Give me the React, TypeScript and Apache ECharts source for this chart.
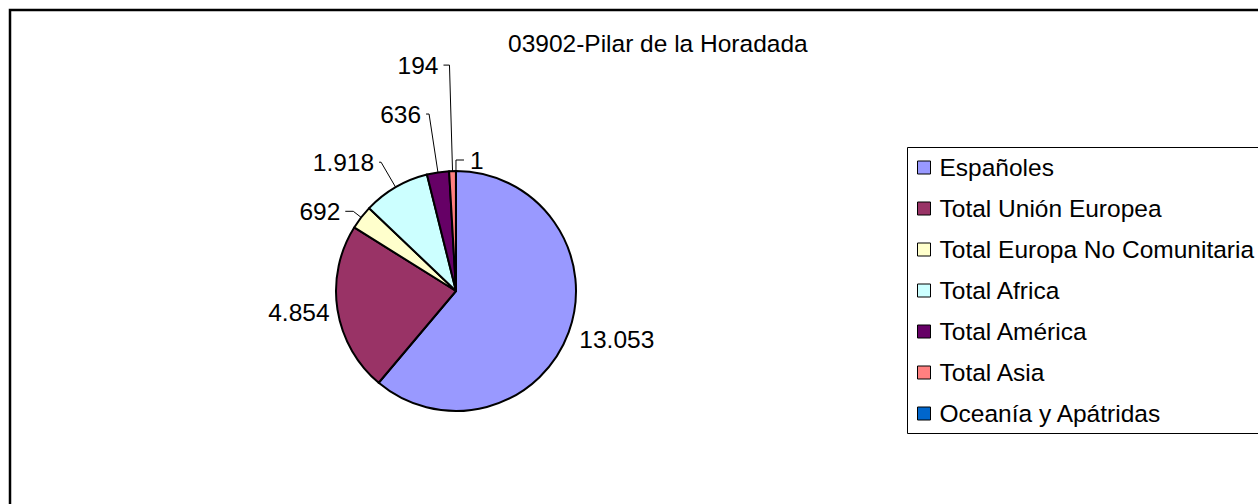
import React, { useEffect, useRef } from "react";
import * as echarts from "echarts";

const title = "03902-Pilar de la Horadada";
const categories = [
  "Españoles",
  "Total Unión Europea",
  "Total Europa No Comunitaria",
  "Total Africa",
  "Total América",
  "Total Asia",
  "Oceanía y Apátridas",
];
const values = [13053, 4854, 692, 1918, 636, 194, 1];
const colors = ["#9999FF", "#993366", "#FFFFCC", "#CCFFFF", "#660066", "#FF8080", "#0066CC"];
const labelLineLength = [6, 6, 10, 29, 59, 106, 11];
const labelLineLength2 = [0, 0, 8, 2, 3, 6, 8];
const labelLineShow = [false, false, true, true, true, true, true];

const FONT = "'Liberation Sans', Arial, sans-serif";
const FS = 24.5;

function fmt(v: number): string {
  return String(v).replace(/\B(?=(\d{3})+(?!\d))/g, ".");
}

export default function App() {
  const ref = useRef<HTMLDivElement>(null);
  useEffect(() => {
    if (!ref.current) return;
    const chart = echarts.init(ref.current, undefined, { renderer: "svg" });
    const data = categories.map((name, i) => ({
      name,
      value: values[i],
      itemStyle: { color: colors[i] },
      labelLine: {
        show: labelLineShow[i],
        length: labelLineLength[i],
        length2: labelLineLength2[i],
      },
    }));
    chart.setOption({
      animation: false,
      backgroundColor: "#ffffff",
      graphic: [
        {
          type: "rect",
          shape: { x: 10, y: 10, width: 1400, height: 1000 },
          style: { fill: "none", stroke: "#000", lineWidth: 2.5 },
          silent: true,
        },
        {
          type: "rect",
          shape: { x: 907.5, y: 147.5, width: 600, height: 286 },
          style: { fill: "none", stroke: "#000", lineWidth: 1 },
          silent: true,
        },
      ],
      title: {
        text: title,
        left: 508,
        top: 31,
        padding: 0,
        textStyle: { fontFamily: FONT, fontSize: FS, fontWeight: "normal", color: "#000", lineHeight: 24 },
      },
      legend: {
        orient: "vertical",
        left: 907,
        top: 147,
        padding: [8, 10, 8, 10],
        itemGap: 16,
        itemWidth: 13,
        itemHeight: 13,
        icon: "rect",
        borderWidth: 0,
        itemStyle: { borderColor: "#000", borderWidth: 1 },
        textStyle: { fontFamily: FONT, fontSize: FS, color: "#000", lineHeight: 24, padding: [0, 0, 0, 4] },
        data: categories,
      },
      series: [
        {
          type: "pie",
          center: [456, 291],
          radius: 120,
          startAngle: 90,
          clockwise: true,
          avoidLabelOverlap: false,
          itemStyle: { borderColor: "#000", borderWidth: 2 },
          label: {
            show: true,
            position: "outside",
            formatter: (p: any) => fmt(p.value),
            fontFamily: FONT,
            fontSize: FS,
            color: "#000",
          },
          labelLine: { lineStyle: { color: "#000", width: 1 } },
          labelLayout: (p: any) => {
            if (p.dataIndex === 0) {
              return { dy: 5 };
            }
            if (p.dataIndex === 1) {
              return { dx: 3, dy: 2 };
            }
            if (p.dataIndex === 6 && p.labelLinePoints) {
              const p0 = p.labelLinePoints[0];
              const y = p0[1] - 11;
              return {
                x: p0[0] + 14,
                y,
                align: "left",
                verticalAlign: "middle",
                labelLinePoints: [
                  [p0[0], p0[1]],
                  [p0[0], y],
                  [p0[0] + 8, y],
                ],
              };
            }
            return {};
          },
          emphasis: { disabled: true },
          data,
        },
      ],
    });
    return () => chart.dispose();
  }, []);
  return (
    <div
      ref={ref}
      style={{ position: "absolute", left: 0, top: 0, width: 1258, height: 504, background: "#fff" }}
    />
  );
}
